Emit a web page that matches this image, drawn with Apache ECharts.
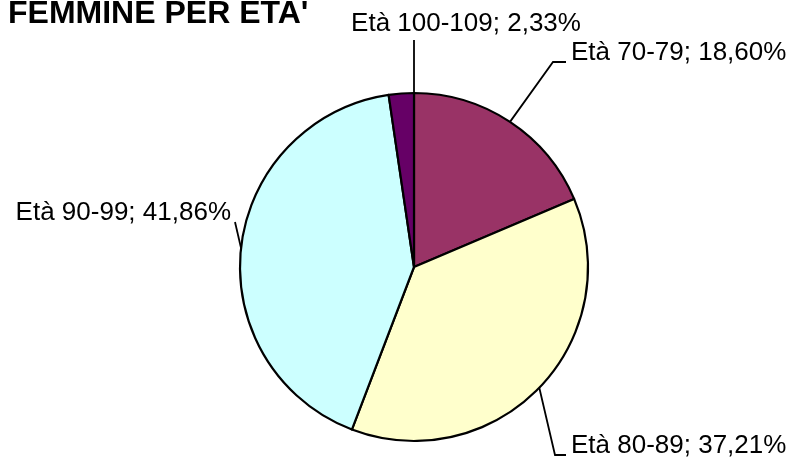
<!DOCTYPE html>
<html>
<head>
<meta charset="utf-8">
<script src="https://cdn.jsdelivr.net/npm/echarts@6/dist/echarts.min.js"></script>
<style>
  html, body { margin: 0; padding: 0; background: #fff; }
  #pie { width: 793px; height: 459px; }
</style>
</head>
<body>
<div id="pie"></div>
<script>
// Data
const categories = ['Età 70-79', 'Età 80-89', 'Età 90-99', 'Età 100-109']
const shares = [18.60, 37.21, 41.86, 2.33]
const colors = ['#993366', '#FFFFCC', '#CCFFFF', '#660066']

// Pie geometry (px)
const CX = 414
const CY = 267
const R = 174

// Label placement: text anchor + leader elbow/end
const labelPos = [
  { x: 571, y: 53, align: 'left', via: [[553, 62], [566, 62]] },
  { x: 571, y: 446, align: 'left', via: [[555, 455], [566, 455]] },
  { x: 231, y: 213, align: 'right', via: [[235, 222]] },
  { x: 466, y: 24, align: 'center', via: [[414, 40]], atTop: true },
]

const total = shares.reduce((a, b) => a + b, 0)
function edgePoint(i) {
  if (labelPos[i].atTop) return [CX, CY - R]
  let before = 0
  for (let k = 0; k < i; k++) before += shares[k]
  const ang = (before + shares[i] / 2) / total * Math.PI * 2
  return [CX + R * Math.sin(ang), CY - R * Math.cos(ang)]
}

const chart = echarts.init(document.getElementById('pie'))
chart.setOption({
  animation: false,
  title: {
    text: "FEMMINE PER ETA'",
    left: 8,
    top: -2,
    padding: 0,
    textStyle: {
      fontFamily: 'Liberation Sans, Arial, sans-serif',
      fontSize: 32,
      fontWeight: 'bold',
      color: '#000',
    },
  },
  series: [{
    type: 'pie',
    center: [CX, CY],
    radius: R,
    startAngle: 90,
    clockwise: true,
    data: categories.map((name, i) => ({
      name,
      value: shares[i],
      itemStyle: { color: colors[i] },
    })),
    itemStyle: {
      borderColor: '#000',
      borderWidth: 2.2,
    },
    emphasis: { disabled: true },
    label: {
      show: true,
      position: 'outside',
      overflow: 'none',
      fontFamily: 'Liberation Sans, Arial, sans-serif',
      fontSize: 26,
      color: '#000',
      formatter: (p) => p.name + '; ' + p.value.toFixed(2).replace('.', ',') + '%',
    },
    labelLine: {
      show: true,
      smooth: false,
      lineStyle: { color: '#000', width: 1.8 },
    },
    labelLayout: (params) => {
      const i = params.dataIndex
      const lp = labelPos[i]
      return {
        x: lp.x,
        y: lp.y,
        align: lp.align,
        verticalAlign: 'middle',
        labelLinePoints: [edgePoint(i)].concat(lp.via),
      }
    },
  }],
})
</script>
</body>
</html>
